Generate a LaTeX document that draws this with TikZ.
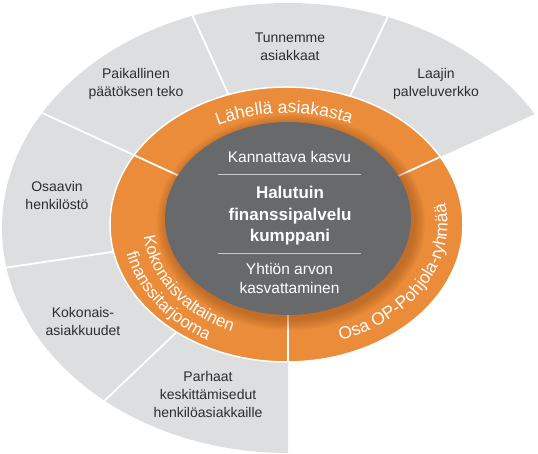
\documentclass[tikz,border=0pt]{standalone}
\usepackage{fontspec}
\setmainfont{Liberation Sans}
\usetikzlibrary{calc,decorations.text}
\definecolor{ringorange}{RGB}{234,140,58}
\definecolor{outergray}{RGB}{221,222,223}
\definecolor{coregray}{RGB}{104,105,107}
\definecolor{labelgray}{RGB}{45,45,45}
\definecolor{shadoworange}{RGB}{150,80,25}
\definecolor{ruleline}{RGB}{200,200,202}
\tikzset{
  outerlabel/.style={text=labelgray, align=center, font=\fontsize{14}{18}\selectfont, inner sep=0pt},
  corelabel/.style={text=white, align=center, font=\fontsize{15.5}{19}\selectfont, inner sep=0pt},
  corebold/.style={text=white, align=center, font=\bfseries\fontsize{17}{21.5}\selectfont, inner sep=0pt},
  divider/.style={white, line width=1.8pt},
  ringtext/.style={decorate, decoration={text along path, text align=center,
      text={|\color{white}\fontsize{17.5}{17.5}\selectfont|#1}}},
  ringtextsmall/.style={decorate, decoration={text along path, text align=center,
      text={|\color{white}\fontsize{16.8}{16.8}\selectfont|#1}}},
}
\begin{document}
\begin{tikzpicture}[x=1pt,y=1pt]
\useasboundingbox (0,0) rectangle (538,454);
\coordinate (O) at (288,228);
\coordinate (OC) at (288,226);
\coordinate (RC) at (286.5,229.5);
\coordinate (GC) at (288,235.5);
% outer gray segments
\begin{scope}
  \clip (OC) ellipse [x radius=286, y radius=225];
  \fill[outergray] (O) -- ($(O)+(24.4:800)$) -- ($(O)+(90:800)$) -- ($(O)+(180:800)$) -- ($(O)+(270:800)$) -- cycle;
  \foreach \a in {64.5,114.4,155.3,188.4,223.6}
    \draw[divider] (O) -- ($(O)+(\a:800)$);
\end{scope}
% orange ring
\fill[ringorange, draw=white, line width=1.5pt] (RC) ellipse [x radius=176.5, y radius=137.5];
\begin{scope}
  \clip (RC) ellipse [x radius=175.5, y radius=136.5];
  \foreach \a in {24.4,155.3,270}
    \draw[divider] (O) -- ($(O)+(\a:800)$);
\end{scope}
% shadow of core
\foreach \i in {1,...,8}{
  \pgfmathsetmacro\rxx{123+\i*1.4}
  \pgfmathsetmacro\ryy{96.5+\i*1.4}
  \fill[shadoworange, opacity=0.07] ($(GC)+(3,-4)$) ellipse [x radius=\rxx, y radius=\ryy];
}
% core
\fill[coregray] (GC) ellipse [x radius=123, y radius=96.5];
\coordinate (r1a) at (218,280); \coordinate (r1b) at (361,280);
\coordinate (r2a) at (218,201); \coordinate (r2b) at (361,201);
\draw[ruleline, line width=0.9pt] (r1a) -- (r1b);
\draw[ruleline, line width=0.9pt] (r2a) -- (r2b);
\node[corelabel] (growth) at (289.5,296.6) {Kannattava kasvu};
\node[corebold] (partner) at (290,238) {Halutuin\\finanssipalvelu\\kumppani};
\node[corelabel] (value) at (289.5,176) {Yhtiön arvon\\kasvattaminen};
% ring texts
\path[ringtext={Lähellä asiakasta}] ($(RC)+(125:150 and 111.5)$) arc[start angle=125, end angle=57, x radius=150, y radius=111.5];
\path[ringtext={Osa OP-Pohjola-ryhmää}] ($(RC)+(-80:161 and 123)$) arc[start angle=-80, end angle=22, x radius=161, y radius=123];
\path[ringtextsmall={Kokonaisvaltainen}] ($(RC)+(176:143.5 and 116)$) arc[start angle=176, end angle=256, x radius=143.5, y radius=116];
\path[ringtextsmall={finanssitarjooma}] ($(RC)+(182:164 and 132)$) arc[start angle=182, end angle=250, x radius=164, y radius=132];
% outer labels
\node[outerlabel] (know) at (290,407) {Tunnemme\\asiakkaat};
\node[outerlabel] (local) at (136,370) {Paikallinen\\päätöksen teko};
\node[outerlabel] (network) at (436,370) {Laajin\\palveluverkko};
\node[outerlabel] (staff) at (57,258) {Osaavin\\henkilöstö};
\node[outerlabel] (whole) at (83,132.6) {Kokonais-\\asiakkuudet};
\node[outerlabel] (benefit) at (208,59) {Parhaat\\keskittämisedut\\henkilöasiakkaille};
\end{tikzpicture}
\end{document}
